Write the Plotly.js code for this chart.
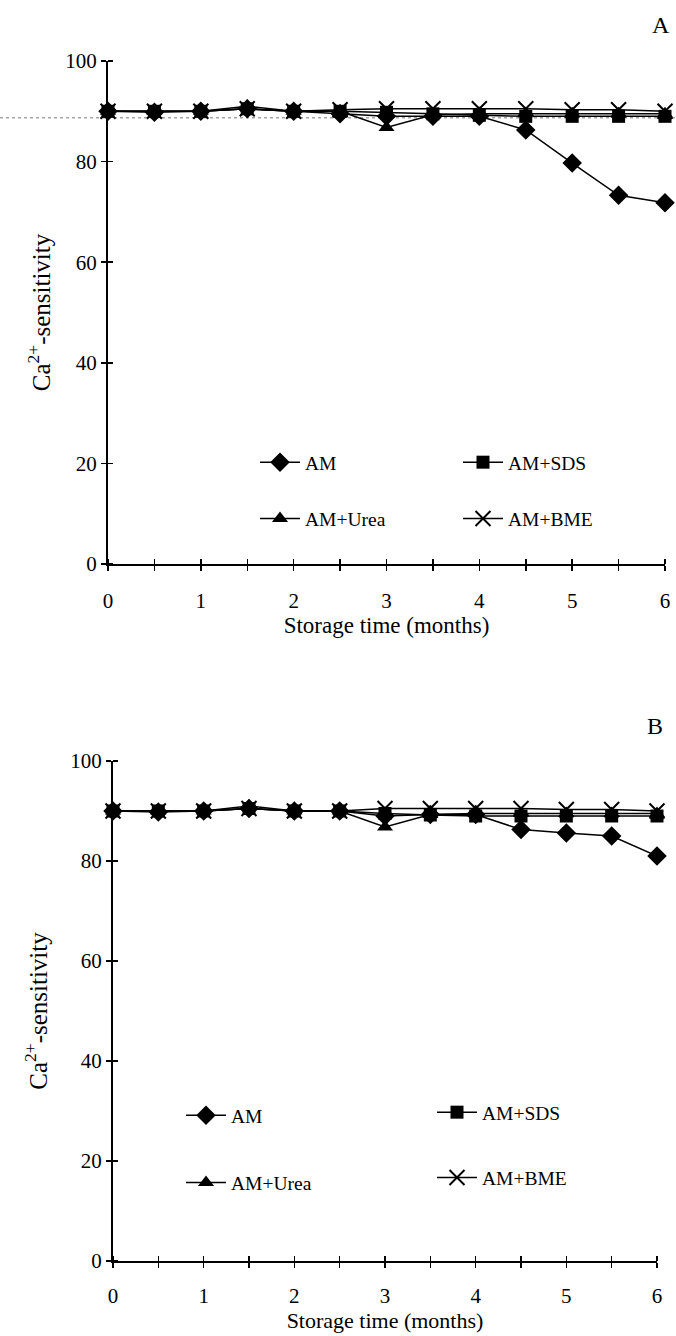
<!DOCTYPE html>
<html>
<head>
<meta charset="utf-8">
<script src="https://cdn.plot.ly/plotly-3.0.1.min.js"></script>
<style>html,body{margin:0;padding:0;background:#fff;}#chart{width:676px;height:1336px;}</style>
</head>
<body>
<div id="chart"></div>
<script>
// ---- data ----
var months = [0, 0.5, 1, 1.5, 2, 2.5, 3, 3.5, 4, 4.5, 5, 5.5, 6];
var xTickVals = [0, 0.5, 1, 1.5, 2, 2.5, 3, 3.5, 4, 4.5, 5, 5.5, 6];
var xTickText = ['0', '', '1', '', '2', '', '3', '', '4', '', '5', '', '6'];
var yTickVals = [0, 20, 40, 60, 80, 100];
var seriesNames = ['AM', 'AM+SDS', 'AM+Urea', 'AM+BME'];

// Panel A
var amA   = [90, 89.8, 90, 90.5, 90, 89.5, 89, 89, 89, 86.3, 79.7, 73.3, 71.8];
var sdsA  = [90, 90, 90, 90.5, 90, 90, 89.8, 89.5, 89.2, 89, 89, 89, 89];
var ureaA = [90, 90, 90, 91, 90, 90, 86.8, 89.3, 89.5, 89.5, 89.5, 89.5, 89.5];
var bmeA  = [90, 90, 90, 90.5, 90, 90.3, 90.5, 90.5, 90.5, 90.5, 90.3, 90.3, 90];

// Panel B
var amB   = [90, 89.8, 90, 90.5, 90, 90, 89, 89.3, 89.3, 86.3, 85.6, 85, 81];
var sdsB  = [90, 90, 90, 90.5, 90, 90, 89.5, 89.2, 89, 89, 89, 89, 89];
var ureaB = [90, 90, 90, 91, 90, 90, 86.8, 89.3, 89.5, 89.5, 89.5, 89.5, 89.5];
var bmeB  = [90, 90, 90, 90.5, 90, 90, 90.5, 90.5, 90.5, 90.5, 90.3, 90.3, 90];

// ---- styles ----
var FONT = 'Liberation Serif, Times New Roman, serif';
var markers = [
  {symbol: 'diamond', size: 15, color: '#000'},
  {symbol: 'square', size: 13, color: '#000'},
  {symbol: 'triangle-up', size: 14, color: '#000'},
  {symbol: 'x-thin-open', size: 15, color: '#000', line: {width: 2, color: '#000'}}
];
function mk(name, idx, y, xa, ya, leg) {
  return {
    type: 'scatter', mode: 'lines+markers', name: name,
    x: months, y: y, xaxis: xa, yaxis: ya,
    line: {color: '#000', width: 1.5},
    marker: markers[idx], cliponaxis: false,
    legend: leg, legendgroup: name + leg
  };
}
var traces = [
  mk(seriesNames[0], 0, amA, 'x', 'y', 'legend'),
  mk(seriesNames[1], 1, sdsA, 'x', 'y', 'legend2'),
  mk(seriesNames[2], 2, ureaA, 'x', 'y', 'legend'),
  mk(seriesNames[3], 3, bmeA, 'x', 'y', 'legend2'),
  mk(seriesNames[0], 0, amB, 'x2', 'y2', 'legend3'),
  mk(seriesNames[1], 1, sdsB, 'x2', 'y2', 'legend4'),
  mk(seriesNames[2], 2, ureaB, 'x2', 'y2', 'legend3'),
  mk(seriesNames[3], 3, bmeB, 'x2', 'y2', 'legend4')
];

var W = 676, H = 1336;
function px(v) { return v / W; }
function py(v) { return (H - v) / H; }
function nudge(vals) { return vals.map(function (v) { return v + 1e-4; }); }

function xAxis(dom, anchor, title, lso, tso, tsize) {
  return {
    domain: dom, anchor: anchor, range: [0, 6],
    tickmode: 'array', tickvals: xTickVals, ticktext: xTickText,
    ticks: 'outside', ticklen: 5, tickwidth: 1.5, tickcolor: '#000',
    minor: {tickmode: 'array', tickvals: nudge(xTickVals), ticks: 'inside', ticklen: 5,
            tickwidth: 1.5, tickcolor: '#000', showgrid: false},
    ticklabelstandoff: lso,
    showline: true, linewidth: 1.5, linecolor: '#000',
    showgrid: false, zeroline: false,
    tickfont: {family: FONT, size: 21, color: '#000'},
    title: {text: title, font: {family: FONT, size: tsize, color: '#000'}, standoff: tso}
  };
}
function yAxis(dom, anchor, so) {
  return {
    domain: dom, anchor: anchor, range: [0, 100],
    tickmode: 'array', tickvals: yTickVals,
    ticks: 'outside', ticklen: 5, tickwidth: 1.5, tickcolor: '#000',
    minor: {tickmode: 'array', tickvals: nudge(yTickVals), ticks: 'inside', ticklen: 5,
            tickwidth: 1.5, tickcolor: '#000', showgrid: false},
    showline: true, linewidth: 2, linecolor: '#000',
    showgrid: false, zeroline: false,
    tickfont: {family: FONT, size: 21, color: '#000'},
    title: {text: 'Ca<sup>2+</sup>-sensitivity', font: {family: FONT, size: 25, color: '#000'}, standoff: so}
  };
}

var xdA = [px(108), px(665)], ydA = [py(564), py(61)];
var xdB = [px(113), px(657)], ydB = [py(1261), py(761)];

function leg(x, yTop, gap) {
  return {x: px(x), y: py(yTop), xanchor: 'left', yanchor: 'top', bgcolor: 'rgba(0,0,0,0)',
    font: {family: FONT, size: 19.5, color: '#000'}, tracegroupgap: gap, itemwidth: 40};
}

var layout = {
  width: W, height: H, margin: {l: 0, r: 0, t: 0, b: 0},
  paper_bgcolor: '#fff', plot_bgcolor: 'rgba(0,0,0,0)',
  font: {family: FONT, color: '#000'},
  showlegend: true,
  xaxis: xAxis(xdA, 'y', 'Storage time (months)', 12, 0, 23),
  yaxis: yAxis(ydA, 'x', 8),
  xaxis2: xAxis(xdB, 'y2', 'Storage time (months)', 10, 5, 22),
  yaxis2: yAxis(ydB, 'x2', 16),
  legend: leg(255, 443, 28),
  legend2: leg(458, 443, 28),
  legend3: leg(181, 1096, 39),
  legend4: leg(432, 1093, 37),
  shapes: [
    {type: 'line', xref: 'paper', yref: 'y', x0: 0, x1: 1, y0: 88.7, y1: 88.7,
     line: {color: '#777', width: 1, dash: 'dot'}, layer: 'below'}
  ],
  annotations: [
    {text: 'A', xref: 'paper', yref: 'paper', x: px(661), y: py(25), xanchor: 'center', yanchor: 'middle',
     showarrow: false, font: {family: FONT, size: 24, color: '#000'}},
    {text: 'B', xref: 'paper', yref: 'paper', x: px(655), y: py(726), xanchor: 'center', yanchor: 'middle',
     showarrow: false, font: {family: FONT, size: 24, color: '#000'}}
  ]
};

Plotly.newPlot('chart', traces, layout, {staticPlot: true, displayModeBar: false});
</script>
</body>
</html>
